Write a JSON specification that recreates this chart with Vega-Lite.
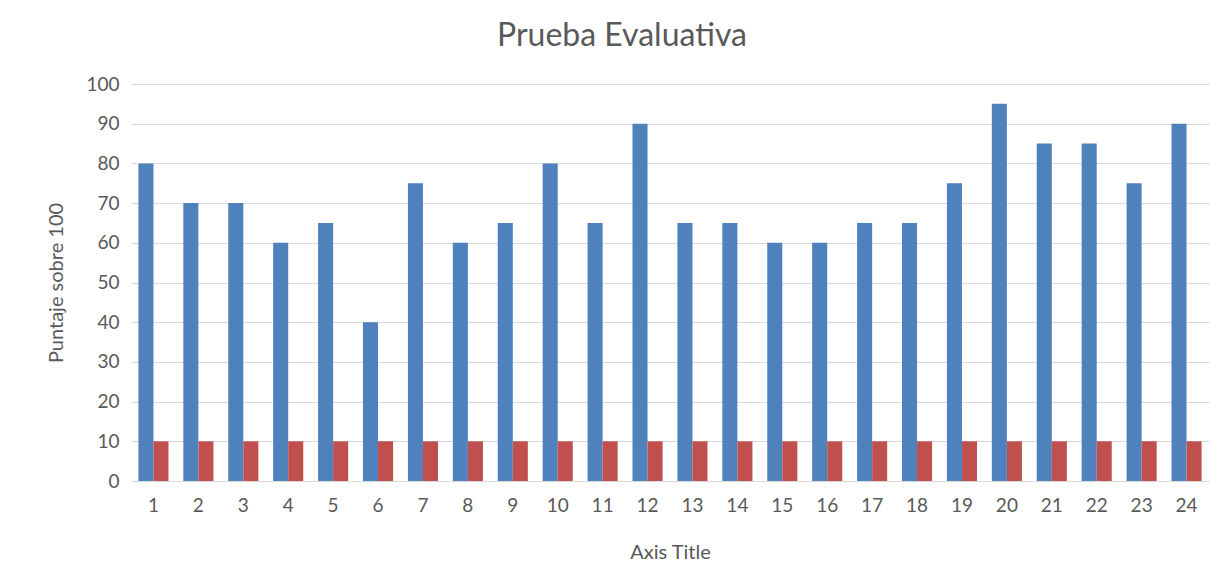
{
  "$schema": "https://vega.github.io/schema/vega-lite/v6.json",
  "width": 1078,
  "height": 397,
  "autosize": {"type": "none"},
  "padding": {"left": 131, "top": 84, "right": 11, "bottom": 107},
  "background": "white",
  "title": {
    "text": "Prueba Evaluativa",
    "font": "Lato",
    "fontSize": 32,
    "fontWeight": "normal",
    "color": "#595959",
    "anchor": "middle",
    "dx": -48,
    "offset": 22
  },
  "config": {
    "view": {"stroke": null},
    "axis": {
      "labelFont": "Lato",
      "titleFont": "Lato",
      "labelColor": "#595959",
      "titleColor": "#595959",
      "labelFontSize": 19,
      "titleFontSize": 20,
      "titleFontWeight": "normal"
    }
  },
  "data": {
    "values": [
      {"n": 1, "serie": "A", "valor": 80}, {"n": 1, "serie": "B", "valor": 10},
      {"n": 2, "serie": "A", "valor": 70}, {"n": 2, "serie": "B", "valor": 10},
      {"n": 3, "serie": "A", "valor": 70}, {"n": 3, "serie": "B", "valor": 10},
      {"n": 4, "serie": "A", "valor": 60}, {"n": 4, "serie": "B", "valor": 10},
      {"n": 5, "serie": "A", "valor": 65}, {"n": 5, "serie": "B", "valor": 10},
      {"n": 6, "serie": "A", "valor": 40}, {"n": 6, "serie": "B", "valor": 10},
      {"n": 7, "serie": "A", "valor": 75}, {"n": 7, "serie": "B", "valor": 10},
      {"n": 8, "serie": "A", "valor": 60}, {"n": 8, "serie": "B", "valor": 10},
      {"n": 9, "serie": "A", "valor": 65}, {"n": 9, "serie": "B", "valor": 10},
      {"n": 10, "serie": "A", "valor": 80}, {"n": 10, "serie": "B", "valor": 10},
      {"n": 11, "serie": "A", "valor": 65}, {"n": 11, "serie": "B", "valor": 10},
      {"n": 12, "serie": "A", "valor": 90}, {"n": 12, "serie": "B", "valor": 10},
      {"n": 13, "serie": "A", "valor": 65}, {"n": 13, "serie": "B", "valor": 10},
      {"n": 14, "serie": "A", "valor": 65}, {"n": 14, "serie": "B", "valor": 10},
      {"n": 15, "serie": "A", "valor": 60}, {"n": 15, "serie": "B", "valor": 10},
      {"n": 16, "serie": "A", "valor": 60}, {"n": 16, "serie": "B", "valor": 10},
      {"n": 17, "serie": "A", "valor": 65}, {"n": 17, "serie": "B", "valor": 10},
      {"n": 18, "serie": "A", "valor": 65}, {"n": 18, "serie": "B", "valor": 10},
      {"n": 19, "serie": "A", "valor": 75}, {"n": 19, "serie": "B", "valor": 10},
      {"n": 20, "serie": "A", "valor": 95}, {"n": 20, "serie": "B", "valor": 10},
      {"n": 21, "serie": "A", "valor": 85}, {"n": 21, "serie": "B", "valor": 10},
      {"n": 22, "serie": "A", "valor": 85}, {"n": 22, "serie": "B", "valor": 10},
      {"n": 23, "serie": "A", "valor": 75}, {"n": 23, "serie": "B", "valor": 10},
      {"n": 24, "serie": "A", "valor": 90}, {"n": 24, "serie": "B", "valor": 10}
    ]
  },
  "mark": {"type": "bar"},
  "encoding": {
    "x": {
      "field": "n",
      "type": "ordinal",
      "scale": {"paddingInner": 0.33, "paddingOuter": 0.165},
      "axis": {
        "title": "Axis Title",
        "labelAngle": 0,
        "ticks": false,
        "domainColor": "#d9d9d9",
        "labelPadding": 15,
        "titlePadding": 27
      }
    },
    "xOffset": {"field": "serie", "type": "nominal"},
    "y": {
      "field": "valor",
      "type": "quantitative",
      "scale": {"domain": [0, 100]},
      "axis": {
        "title": "Puntaje sobre 100",
        "values": [0, 10, 20, 30, 40, 50, 60, 70, 80, 90, 100],
        "domain": false,
        "ticks": false,
        "gridColor": "#d9d9d9",
        "labelPadding": 12,
        "titlePadding": 19
      }
    },
    "color": {
      "field": "serie",
      "type": "nominal",
      "scale": {"domain": ["A", "B"], "range": ["#4F81BD", "#C0504D"]},
      "legend": null
    }
  }
}
